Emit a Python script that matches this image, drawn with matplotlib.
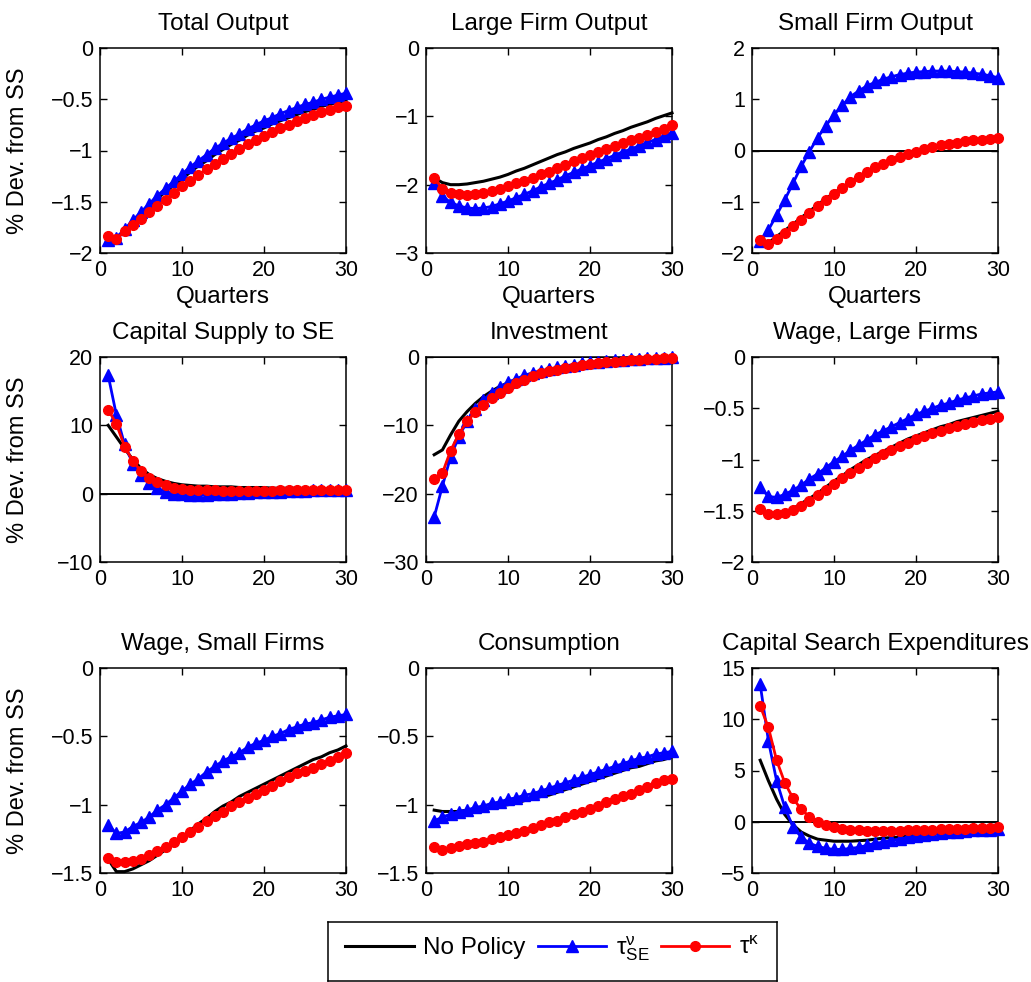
import numpy as np
import matplotlib.pyplot as plt
from matplotlib.ticker import FuncFormatter

plt.rcParams['font.family'] = ['Liberation Sans', 'DejaVu Sans']
plt.rcParams['mathtext.fontset'] = 'custom'
plt.rcParams['mathtext.rm'] = 'Liberation Sans'
plt.rcParams['mathtext.it'] = 'Liberation Sans:italic'

quarters = np.arange(1, 31)

titles = ['Total Output', 'Large Firm Output', 'Small Firm Output',
          'Capital Supply to SE', 'Investment', 'Wage, Large Firms',
          'Wage, Small Firms', 'Consumption', 'Capital Search Expenditures']
ylims = [(-2, 0), (-3, 0), (-2, 2), (-10, 20), (-30, 0), (-2, 0),
         (-1.5, 0), (-1.5, 0), (-5, 15)]
yticks = [[-2, -1.5, -1, -0.5, 0], [-3, -2, -1, 0], [-2, -1, 0, 1, 2],
          [-10, 0, 10, 20], [-30, -20, -10, 0], [-2, -1.5, -1, -0.5, 0],
          [-1.5, -1, -0.5, 0], [-1.5, -1, -0.5, 0], [-5, 0, 5, 10, 15]]
zero_line = [False, False, True, True, True, False, False, False, True]

# No Policy
no_policy = [
    [-1.86, -1.85, -1.78, -1.70, -1.62, -1.55, -1.47, -1.40, -1.34, -1.28, -1.21, -1.15, -1.10, -1.04, -0.99,
     -0.94, -0.90, -0.85, -0.81, -0.78, -0.74, -0.71, -0.68, -0.65, -0.62, -0.60, -0.57, -0.55, -0.53, -0.51],
    [-1.90, -1.97, -2.00, -2.00, -1.99, -1.97, -1.95, -1.92, -1.89, -1.85, -1.80, -1.76, -1.71, -1.66, -1.61,
     -1.56, -1.52, -1.47, -1.43, -1.39, -1.34, -1.30, -1.25, -1.21, -1.16, -1.12, -1.08, -1.03, -0.99, -0.95],
    [-1.74, -1.80, -1.68, -1.56, -1.44, -1.31, -1.19, -1.06, -0.94, -0.83, -0.72, -0.61, -0.51, -0.42, -0.33,
     -0.26, -0.19, -0.12, -0.07, -0.02, 0.03, 0.07, 0.10, 0.12, 0.15, 0.18, 0.20, 0.21, 0.23, 0.24],
    [10.0, 8.3, 6.6, 5.0, 3.7, 2.8, 2.2, 1.8, 1.5, 1.3, 1.2, 1.1, 1.1, 1.0, 1.0,
     1.0, 0.9, 0.9, 0.9, 0.9, 0.8, 0.8, 0.8, 0.8, 0.7, 0.7, 0.7, 0.7, 0.7, 0.7],
    [-14.3, -13.6, -11.4, -9.4, -8.0, -6.8, -5.8, -5.0, -4.3, -3.8, -3.3, -2.9, -2.6, -2.3, -2.0,
     -1.8, -1.6, -1.4, -1.2, -1.1, -0.9, -0.8, -0.7, -0.6, -0.5, -0.4, -0.35, -0.3, -0.2, -0.15],
    [-1.49, -1.56, -1.55, -1.52, -1.48, -1.43, -1.38, -1.33, -1.27, -1.21, -1.16, -1.10, -1.05, -1.00, -0.96,
     -0.92, -0.88, -0.84, -0.80, -0.77, -0.74, -0.71, -0.68, -0.66, -0.63, -0.61, -0.59, -0.57, -0.55, -0.53],
    [-1.40, -1.49, -1.49, -1.47, -1.44, -1.41, -1.37, -1.33, -1.29, -1.24, -1.19, -1.14, -1.10, -1.05, -1.01,
     -0.98, -0.94, -0.91, -0.88, -0.85, -0.82, -0.79, -0.76, -0.73, -0.70, -0.67, -0.65, -0.62, -0.60, -0.57],
    [-1.04, -1.05, -1.05, -1.05, -1.04, -1.04, -1.03, -1.02, -1.01, -1.00, -0.99, -0.97, -0.96, -0.94, -0.93,
     -0.91, -0.89, -0.87, -0.85, -0.83, -0.81, -0.79, -0.77, -0.75, -0.73, -0.72, -0.70, -0.68, -0.67, -0.65],
    [6.0, 4.0, 2.2, 0.7, -0.3, -1.0, -1.4, -1.7, -1.8, -1.9, -1.9, -1.9, -1.85, -1.8, -1.7,
     -1.6, -1.55, -1.5, -1.4, -1.35, -1.3, -1.2, -1.15, -1.1, -1.05, -1.0, -0.95, -0.9, -0.85, -0.8],
]

# tau^nu_SE
tau_se = [
    [-1.87, -1.85, -1.77, -1.68, -1.60, -1.52, -1.44, -1.37, -1.30, -1.23, -1.16, -1.10, -1.04, -0.98, -0.93,
     -0.88, -0.84, -0.79, -0.75, -0.71, -0.68, -0.64, -0.61, -0.58, -0.55, -0.53, -0.50, -0.48, -0.46, -0.44],
    [-1.98, -2.17, -2.26, -2.31, -2.34, -2.35, -2.34, -2.32, -2.28, -2.24, -2.19, -2.14, -2.09, -2.03, -1.98,
     -1.93, -1.87, -1.82, -1.77, -1.72, -1.67, -1.62, -1.57, -1.52, -1.48, -1.43, -1.38, -1.34, -1.29, -1.24],
    [-1.76, -1.55, -1.26, -0.96, -0.64, -0.31, -0.02, 0.25, 0.48, 0.70, 0.88, 1.05, 1.16, 1.26, 1.33,
     1.39, 1.44, 1.48, 1.51, 1.53, 1.54, 1.55, 1.55, 1.55, 1.54, 1.53, 1.51, 1.49, 1.46, 1.42],
    [17.3, 11.5, 7.2, 4.4, 2.7, 1.6, 0.8, 0.3, 0.0, -0.1, -0.2, -0.2, -0.2, -0.1, -0.1,
     0.0, 0.1, 0.1, 0.2, 0.2, 0.3, 0.3, 0.4, 0.4, 0.4, 0.5, 0.5, 0.5, 0.6, 0.6],
    [-23.4, -18.9, -14.6, -11.7, -9.4, -7.6, -6.3, -5.2, -4.4, -3.7, -3.2, -2.7, -2.3, -2.0, -1.8,
     -1.5, -1.3, -1.1, -0.9, -0.8, -0.7, -0.6, -0.5, -0.4, -0.3, -0.25, -0.2, -0.15, -0.1, -0.05],
    [-1.27, -1.36, -1.37, -1.34, -1.30, -1.25, -1.19, -1.14, -1.08, -1.02, -0.97, -0.91, -0.86, -0.81, -0.76,
     -0.72, -0.68, -0.64, -0.60, -0.56, -0.53, -0.50, -0.47, -0.45, -0.42, -0.40, -0.38, -0.36, -0.35, -0.34],
    [-1.15, -1.21, -1.20, -1.16, -1.13, -1.09, -1.04, -1.00, -0.95, -0.90, -0.85, -0.81, -0.76, -0.72, -0.68,
     -0.65, -0.62, -0.58, -0.55, -0.53, -0.50, -0.48, -0.45, -0.43, -0.41, -0.40, -0.38, -0.36, -0.35, -0.34],
    [-1.12, -1.09, -1.07, -1.05, -1.04, -1.02, -1.01, -0.99, -0.98, -0.96, -0.95, -0.93, -0.92, -0.90, -0.88,
     -0.86, -0.84, -0.82, -0.80, -0.78, -0.76, -0.74, -0.72, -0.70, -0.68, -0.66, -0.65, -0.63, -0.62, -0.61],
    [13.4, 7.9, 4.0, 1.4, -0.5, -1.5, -2.1, -2.4, -2.6, -2.7, -2.7, -2.6, -2.5, -2.3, -2.1,
     -2.0, -1.8, -1.7, -1.5, -1.4, -1.3, -1.2, -1.1, -1.0, -1.0, -0.9, -0.8, -0.8, -0.8, -0.75],
]

# tau^kappa
tau_k = [
    [-1.83, -1.86, -1.79, -1.73, -1.67, -1.60, -1.54, -1.48, -1.41, -1.35, -1.30, -1.24, -1.18, -1.13, -1.08,
     -1.03, -0.99, -0.94, -0.90, -0.86, -0.82, -0.78, -0.75, -0.71, -0.68, -0.65, -0.62, -0.60, -0.58, -0.57],
    [-1.90, -2.06, -2.12, -2.14, -2.15, -2.14, -2.12, -2.09, -2.06, -2.02, -1.98, -1.94, -1.90, -1.85, -1.81,
     -1.76, -1.71, -1.66, -1.61, -1.57, -1.52, -1.48, -1.44, -1.39, -1.35, -1.31, -1.27, -1.23, -1.18, -1.13],
    [-1.74, -1.83, -1.72, -1.60, -1.48, -1.35, -1.22, -1.09, -0.96, -0.85, -0.73, -0.62, -0.52, -0.42, -0.33,
     -0.26, -0.19, -0.12, -0.07, -0.02, 0.03, 0.07, 0.10, 0.12, 0.15, 0.18, 0.20, 0.21, 0.23, 0.24],
    [12.3, 10.2, 6.9, 4.8, 3.3, 2.3, 1.7, 1.2, 0.9, 0.7, 0.6, 0.5, 0.5, 0.5, 0.4,
     0.4, 0.4, 0.4, 0.4, 0.4, 0.4, 0.5, 0.5, 0.5, 0.5, 0.5, 0.5, 0.5, 0.5, 0.5],
    [-17.8, -17.0, -13.7, -11.3, -9.4, -8.1, -7.0, -6.0, -5.2, -4.5, -3.8, -3.3, -2.8, -2.4, -2.1,
     -1.9, -1.6, -1.4, -1.2, -1.0, -0.9, -0.8, -0.7, -0.6, -0.5, -0.45, -0.35, -0.3, -0.2, -0.15],
    [-1.48, -1.53, -1.53, -1.52, -1.49, -1.45, -1.40, -1.35, -1.30, -1.24, -1.18, -1.13, -1.08, -1.03, -0.99,
     -0.95, -0.91, -0.87, -0.84, -0.80, -0.77, -0.74, -0.72, -0.69, -0.67, -0.65, -0.63, -0.61, -0.60, -0.59],
    [-1.39, -1.42, -1.42, -1.41, -1.40, -1.37, -1.34, -1.31, -1.27, -1.24, -1.20, -1.16, -1.12, -1.08, -1.05,
     -1.01, -0.98, -0.95, -0.92, -0.89, -0.86, -0.83, -0.80, -0.77, -0.75, -0.73, -0.70, -0.68, -0.65, -0.62],
    [-1.31, -1.33, -1.32, -1.30, -1.29, -1.28, -1.27, -1.25, -1.24, -1.22, -1.21, -1.19, -1.17, -1.15, -1.13,
     -1.12, -1.09, -1.07, -1.05, -1.03, -1.01, -0.98, -0.96, -0.94, -0.92, -0.89, -0.87, -0.84, -0.82, -0.81],
    [11.3, 9.2, 6.0, 3.8, 2.3, 1.2, 0.5, 0.0, -0.3, -0.5, -0.7, -0.8, -0.85, -0.9, -0.9,
     -0.9, -0.9, -0.9, -0.85, -0.85, -0.8, -0.8, -0.75, -0.75, -0.7, -0.7, -0.65, -0.6, -0.6, -0.55],
]

legend_labels = ['No Policy', r'$\mathrm{\tau}^{\mathrm{\nu}}_{\mathrm{SE}}$', r'$\mathrm{\tau}^{\mathrm{\kappa}}$']

W, H = 1031, 982
fig = plt.figure(figsize=(W / 100, H / 100), dpi=100)

col_left = [100, 426, 752]
row_top = [48, 357, 668]
ax_w, ax_h = 246, 205


def fmt(v, pos):
    return ('%g' % v).replace('-', '\u2212')


axes = []
for i in range(9):
    r, c = divmod(i, 3)
    ax = fig.add_axes([col_left[c] / W, 1 - (row_top[r] + ax_h) / H, ax_w / W, ax_h / H])
    if zero_line[i]:
        ax.axhline(0, color='k', lw=1.4, zorder=1)
    ax.plot(quarters, no_policy[i], '-', color='k', lw=2.2, clip_on=False, zorder=2)
    ax.plot(quarters, tau_se[i], '-^', color='b', lw=2, ms=8, clip_on=False, zorder=3)
    ax.plot(quarters, tau_k[i], '-o', color='r', lw=2, ms=7, clip_on=False, zorder=4)
    ax.set_xlim(0, 30)
    ax.set_ylim(*ylims[i])
    ax.set_xticks([0, 10, 20, 30])
    ax.set_yticks(yticks[i])
    ax.yaxis.set_major_formatter(FuncFormatter(fmt))
    ax.tick_params(direction='in', length=5, width=1, labelsize=15.5, top=True, right=True, pad=5)
    for s in ax.spines.values():
        s.set_linewidth(1.1)
    ax.set_title(titles[i], fontsize=17.5, pad=13)
    if r == 0:
        ax.set_xlabel('Quarters', fontsize=17.5, labelpad=4)
    if c == 0:
        ax.set_ylabel('% Dev. from SS', fontsize=17)
        ax.yaxis.set_label_coords(-0.29, 0.5)
    axes.append(ax)

# legend box below the panels
lax = fig.add_axes([328 / W, 1 - 981 / H, 449 / W, 59 / H])
lax.set_xticks([])
lax.set_yticks([])
for s in lax.spines.values():
    s.set_linewidth(1.1)
lax.legend(axes[0].lines[-3:], legend_labels, loc='upper center', ncol=3, frameon=False,
           fontsize=17.5, handlelength=2.8, columnspacing=0.5, handletextpad=0.4,
           borderaxespad=0.1)

fig.savefig('out.png', dpi=100)
